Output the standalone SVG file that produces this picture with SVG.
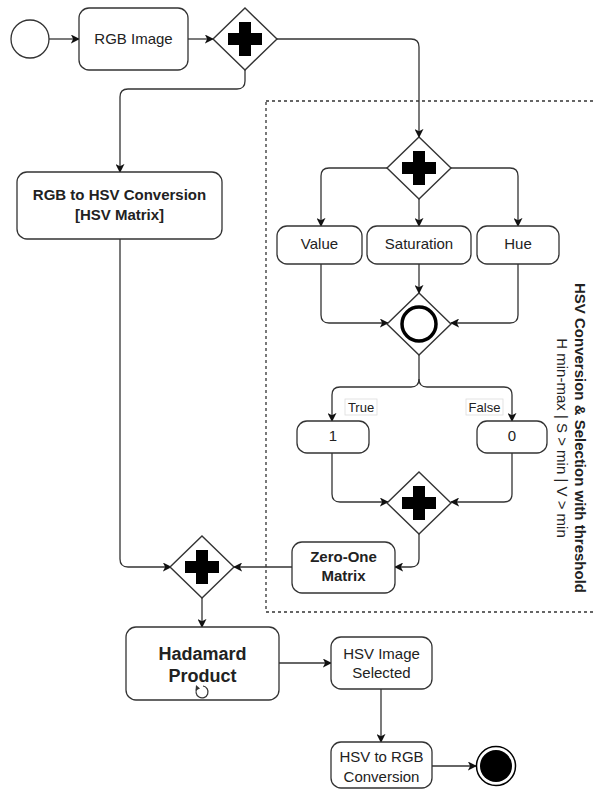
<svg xmlns="http://www.w3.org/2000/svg" width="595" height="790" viewBox="0 0 595 790">
<defs>
<style>
.box{fill:#fff;stroke:#333;stroke-width:1.3}
.gw{fill:#fff;stroke:#333;stroke-width:1.4}
.t{font-family:"Liberation Sans",Arial,sans-serif;font-size:15px;fill:#222;text-anchor:middle}
.b{font-weight:bold}
.e{fill:none;stroke:#333;stroke-width:1.3}
.lbl{font-family:"Liberation Sans",Arial,sans-serif;font-size:13px;fill:#222;text-anchor:middle}
</style>
<marker id="arr" viewBox="0 0 10 10" refX="9" refY="5" markerWidth="9" markerHeight="9" markerUnits="userSpaceOnUse" orient="auto">
<path d="M0,0 L10,5 L0,10 L2.5,5 z" fill="#111"/>
</marker>
<symbol id="plusSym" viewBox="-17 -17 34 34">
<path d="M-6,-17 H6 V-6 H17 V6 H6 V17 H-6 V6 H-17 V-6 H-6 z" fill="#000"/>
</symbol>
</defs>

<g id="pool">
<rect x="266" y="101" width="340" height="511" fill="none" stroke="#333" stroke-width="1.3" stroke-dasharray="3 3"/>
<text class="t b" transform="translate(575,438) rotate(90)">HSV Conversion &amp; Selection with threshold</text>
<text class="t" transform="translate(557,438) rotate(90)">H min-max | S &gt; min | V &gt; min</text>
</g>

<g id="edges">
<path class="e" d="M49,39 H79" marker-end="url(#arr)"/>
<path class="e" d="M188,39 H213" marker-end="url(#arr)"/>
<path class="e" d="M277,39 H411 Q419,39 419,47 V137" marker-end="url(#arr)"/>
<path class="e" d="M245,70 V81 Q245,89 237,89 H128 Q120,89 120,97 V172" marker-end="url(#arr)"/>
<path class="e" d="M388,168 H329 Q321,168 321,176 V226" marker-end="url(#arr)"/>
<path class="e" d="M419,199 V226" marker-end="url(#arr)"/>
<path class="e" d="M451,168 H510 Q518,168 518,176 V226" marker-end="url(#arr)"/>
<path class="e" d="M321,264 V315 Q321,323 329,323 H388" marker-end="url(#arr)"/>
<path class="e" d="M419,264 V293" marker-end="url(#arr)"/>
<path class="e" d="M518,264 V315 Q518,323 510,323 H451" marker-end="url(#arr)"/>
<path class="e" d="M419,355 V379 Q419,387 411,387 H340 Q332,387 332,395 V421" marker-end="url(#arr)"/>
<path class="e" d="M419,379 Q419,387 427,387 H504 Q512,387 512,395 V421" marker-end="url(#arr)"/>
<path class="e" d="M332,453 V494 Q332,502 340,502 H388" marker-end="url(#arr)"/>
<path class="e" d="M512,453 V494 Q512,502 504,502 H451" marker-end="url(#arr)"/>
<path class="e" d="M419,534 V559 Q419,567 411,567 H395" marker-end="url(#arr)"/>
<path class="e" d="M292,567 H234" marker-end="url(#arr)"/>
<path class="e" d="M120,239 V559 Q120,567 128,567 H171" marker-end="url(#arr)"/>
<path class="e" d="M202,598 V627" marker-end="url(#arr)"/>
<path class="e" d="M279,663 H331" marker-end="url(#arr)"/>
<path class="e" d="M381,689 V742" marker-end="url(#arr)"/>
<path class="e" d="M432,766 H476" marker-end="url(#arr)"/>
<g id="label-true">
<rect x="345" y="399" width="32" height="16" fill="#fff" stroke="#ddd" stroke-width="0.8"/>
<text class="lbl" x="361" y="412">True</text>
</g>
<g id="label-false">
<rect x="466" y="399" width="37" height="16" fill="#fff" stroke="#ddd" stroke-width="0.8"/>
<text class="lbl" x="484.5" y="412">False</text>
</g>
</g>

<g id="start"><circle cx="30" cy="39" r="19" fill="#fff" stroke="#333" stroke-width="1.3"/></g>

<g id="rgb-image">
<rect class="box" x="79" y="8" width="109" height="62" rx="10"/>
<text class="t" x="133.5" y="44">RGB Image</text>
</g>

<g id="gw1">
<path class="gw" d="M245,8 L277,39 L245,70 L213,39 z"/>
<use href="#plusSym" x="228" y="22" width="34" height="34"/>
</g>

<g id="rgb-to-hsv">
<rect class="box" x="17" y="172" width="205" height="67" rx="10"/>
<text class="t b" x="119.5" y="200">RGB to HSV Conversion</text>
<text class="t b" x="119.5" y="220">[HSV Matrix]</text>
</g>

<g id="gw2">
<path class="gw" d="M419,137 L451,168 L419,199 L387,168 z"/>
<use href="#plusSym" x="402" y="151" width="34" height="34"/>
</g>

<g id="value">
<rect class="box" x="277" y="226" width="85" height="38" rx="10"/>
<text class="t" x="319.5" y="249">Value</text>
</g>
<g id="saturation">
<rect class="box" x="367" y="226" width="104" height="38" rx="10"/>
<text class="t" x="419" y="249">Saturation</text>
</g>
<g id="hue">
<rect class="box" x="477" y="226" width="82" height="38" rx="10"/>
<text class="t" x="518" y="249">Hue</text>
</g>

<g id="gw3">
<path class="gw" d="M419,293 L451,324 L419,355 L387,324 z"/>
<circle cx="419" cy="324" r="17" fill="none" stroke="#000" stroke-width="3.5"/>
</g>

<g id="one">
<rect class="box" x="297" y="421" width="72" height="32" rx="10"/>
<text class="t" x="333" y="441">1</text>
</g>
<g id="zero">
<rect class="box" x="477" y="421" width="70" height="32" rx="10"/>
<text class="t" x="512" y="441">0</text>
</g>

<g id="gw4">
<path class="gw" d="M419,472 L451,503 L419,534 L387,503 z"/>
<use href="#plusSym" x="402" y="486" width="34" height="34"/>
</g>

<g id="zero-one">
<rect class="box" x="292" y="542" width="103" height="51" rx="10"/>
<text class="t b" x="343.5" y="562">Zero-One</text>
<text class="t b" x="343.5" y="581">Matrix</text>
</g>

<g id="gw5">
<path class="gw" d="M202,536 L234,567 L202,598 L170,567 z"/>
<use href="#plusSym" x="185" y="550" width="34" height="34"/>
</g>

<g id="hadamard">
<rect class="box" x="126" y="627" width="153" height="73" rx="10"/>
<text class="t b" style="font-size:18px" x="202.5" y="660">Hadamard</text>
<text class="t b" style="font-size:18px" x="202.5" y="682">Product</text>
<path d="M197.5,688 A6,6 0 1 0 203,686" fill="none" stroke="#333" stroke-width="1.2"/>
<path d="M196,685 L200,688.5 L195.5,690.5 z" fill="#333"/>
</g>

<g id="hsv-selected">
<rect class="box" x="331" y="637" width="101" height="52" rx="10"/>
<text class="t" x="381.5" y="659">HSV Image</text>
<text class="t" x="381.5" y="678">Selected</text>
</g>

<g id="hsv-to-rgb">
<rect class="box" x="331" y="742" width="101" height="46" rx="10"/>
<text class="t" x="381.5" y="762">HSV to RGB</text>
<text class="t" x="381.5" y="782">Conversion</text>
</g>

<g id="end">
<circle cx="496" cy="766" r="19.5" fill="#fff" stroke="#000" stroke-width="1.5"/>
<circle cx="496" cy="766" r="16" fill="#000"/>
</g>
</svg>
